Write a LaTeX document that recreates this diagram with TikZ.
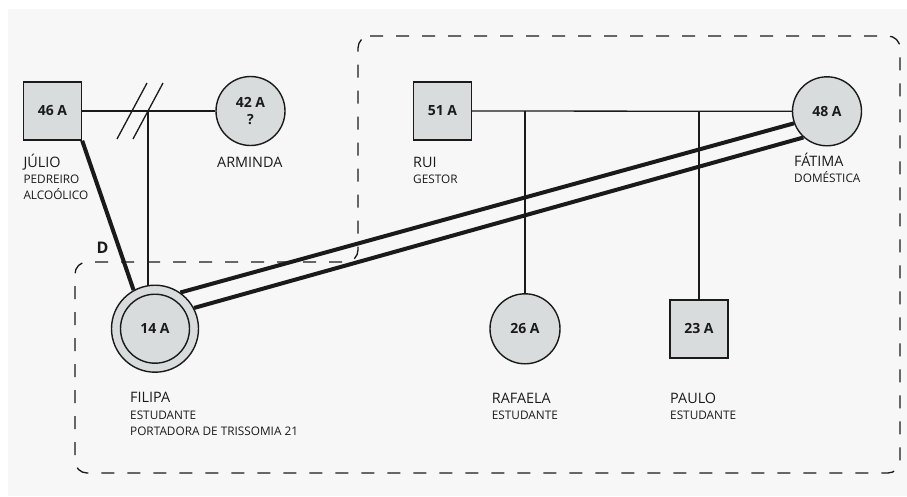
\documentclass[tikz,border=0pt]{standalone}
\usepackage{fontspec}
\setmainfont{Open Sans}
\pgfdeclarelayer{back}
\pgfsetlayers{back,main}
\definecolor{bgc}{HTML}{F7F7F7}
\definecolor{fillg}{HTML}{D9DCDD}
\definecolor{ink}{HTML}{1A1A1A}
\begin{document}
\begin{tikzpicture}[x=1pt,y=-1pt,
  person/.style={draw=ink,fill=fillg,line width=1.4pt,inner sep=0pt,text=ink,
    font=\bfseries\fontsize{14}{16.7}\selectfont,align=center},
  male/.style={person,rectangle,minimum size=58pt},
  female/.style={person,circle,minimum size=69pt},
  thinline/.style={draw=ink,line width=1.3pt},
  thickline/.style={draw=ink,line width=4pt},
  pname/.style={anchor=base west,inner sep=0pt,text=ink,font=\fontsize{14.4}{16}\selectfont},
  psub/.style={anchor=base west,inner sep=0pt,text=ink,font=\fontsize{11.8}{16}\selectfont},
  boundary/.style={draw=ink,line width=1.3pt,dash pattern=on 13pt off 13pt,rounded corners=12pt}
]
\useasboundingbox (0,0) rectangle (907,496);

% persons
\node[male] (jul) at (52.5,111) {46 A};
\node[female] (arm) at (250.5,111) {42 A\\?};
\node[male] (rui) at (442.5,111) {51 A};
\node[female] (fat) at (827,111.3) {48 A};
\node[female,minimum size=87pt] (fil) at (155,328.7) {};
\node[female] (filin) at (fil.center) {14 A};
\node[female,minimum size=70pt] (raf) at (525,328.8) {26 A};
\node[male] (pau) at (699,328.8) {23 A};

% labels
\node[pname] (njul) at (23.3,167.3) {JÚLIO};
\node[psub] (sjul1) at (23.3,183.3) {PEDREIRO};
\node[psub] (sjul2) at (23.3,199.3) {ALCOÓLICO};
\node[pname] (narm) at (217,167.3) {ARMINDA};
\node[pname] (nrui) at (413,167) {RUI};
\node[psub] (srui) at (413,183.3) {GESTOR};
\node[pname] (nfat) at (794,166.7) {FÁTIMA};
\node[psub] (sfat) at (794,182.7) {DOMÉSTICA};
\node[pname] (nfil) at (130,402.7) {FILIPA};
\node[psub] (sfil1) at (130,419) {ESTUDANTE};
\node[psub] (sfil2) at (130,435) {PORTADORA DE TRISSOMIA 21};
\node[pname] (nraf) at (491.7,403.3) {RAFAELA};
\node[psub] (sraf) at (491.7,419.3) {ESTUDANTE};
\node[pname] (npau) at (670,403.3) {PAULO};
\node[psub] (spau) at (670,419.3) {ESTUDANTE};
\node[anchor=base west,inner sep=0pt,text=ink,font=\bfseries\fontsize{16}{16}\selectfont] (dlab) at (96.5,253.3) {D};

\begin{pgfonlayer}{back}
  \fill[bgc] (8,9) rectangle (907,496);
  \draw[boundary] (358,36) -- (900,36) -- (900,473) -- (75,473) -- (75,262) -- (358,262) -- cycle;
  % Julio - Arminda (divorced)
  \draw[thinline] (jul.east) -- (arm.west);
  \draw[thinline] (117,139) -- (147,83);
  \draw[thinline] (133,139) -- (163,83);
  \coordinate (m1) at (fil.99 |- jul.east);
  \draw[thinline] (m1) -- (fil.99);
  \draw[thickline] (jul.south east) -- (fil.119);
  % Rui - Fatima
  \draw[thinline] (rui.east) -- (fat.west);
  \coordinate (m2) at (raf.north |- rui.east);
  \draw[thinline] (m2) -- (raf.north);
  \coordinate (m3) at (pau.north |- rui.east);
  \draw[thinline] (m3) -- (pau.north);
  % Filipa - Fatima
  \draw[thickline] (fil.55) -- (fat.200);
  \draw[thickline] (fil.28) -- (fat.228);
\end{pgfonlayer}
\end{tikzpicture}
\end{document}
